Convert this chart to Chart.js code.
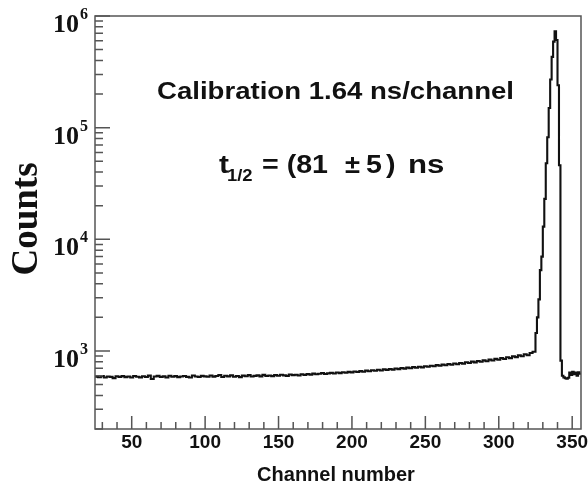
<!DOCTYPE html>
<html lang="en">
<head>
<meta charset="UTF-8">
<title>Calibration spectrum</title>
<script src="https://cdn.jsdelivr.net/npm/chart.js"></script>
<style>
  body { margin: 0; background: #fff; }
  #wrap { width: 588px; height: 487px; }
</style>
</head>
<body>
<div id="wrap"><canvas id="spectrum" width="588" height="487"></canvas></div>
<script>
// flat part of the spectrum, read in bins of 2 channels starting at channel 25
const bgStart = 25;
const bgCounts = [
  588, 582, 595, 579, 590, 586, 571, 593, 584, 597,
  583, 591, 578, 596, 588, 580, 594, 585, 601, 560,
  590, 598, 584, 592, 579, 600, 588, 595, 583, 591,
  597, 586, 579, 602, 590, 584, 598, 592, 587, 603,
  589, 596, 610, 585, 599, 592, 604, 588, 596, 583,
  601, 594, 607, 590, 598, 605, 592, 611, 597, 603,
  595, 608, 600, 613, 604, 598, 616, 607, 612, 603,
  618, 610, 622, 614, 627, 619, 625, 633, 621, 630,
  636, 628, 641, 633, 645, 638, 650, 643, 655, 648,
  660, 652, 667, 658, 672, 664, 678, 669, 684, 676,
  690, 681, 697, 688, 703, 694, 709, 700, 716, 707,
  722, 713, 730, 721, 738, 729, 746, 736, 755, 744,
  763, 752, 772, 760, 781, 770, 792, 780, 803, 790,
  812, 800, 824, 810, 837, 822, 850, 834, 862, 846,
  878, 862, 895, 880, 912, 896, 935, 915, 960, 985
];
// peak and tail, one channel per bin starting at channel 325
const peakStart = 325;
const peakCounts = [
  1450, 2000, 2900, 5300, 7000, 13000, 23000, 48000, 82000, 150000,
  270000, 430000, 590000, 730000, 610000, 240000, 46000, 820, 600, 580,
  570, 565, 575, 640, 610, 650, 620, 640, 600, 645, 625
];
const xTickLabels = [50, 100, 150, 200, 250, 300, 350];
const yTickLabels = [1e3, 1e4, 1e5, 1e6];

const points = [];
bgCounts.forEach((c, i) => points.push({ x: bgStart + 2 * i, y: c }));
peakCounts.forEach((c, i) => points.push({ x: peakStart + i, y: c }));
points.push({ x: peakStart + peakCounts.length, y: peakCounts[peakCounts.length - 1] });

const SANS = '"Liberation Sans", Arial, sans-serif';
const SERIF = '"Liberation Serif", "Times New Roman", serif';

function putText(ctx, str, x, y, font, sx, align) {
  ctx.save();
  ctx.font = font;
  ctx.translate(x, y);
  ctx.scale(sx, 1);
  ctx.textAlign = align || 'left';
  ctx.fillText(str, 0, 0);
  ctx.restore();
}

const frame = {
  id: 'frame',
  afterDatasetsDraw(chart) {
    const { ctx, chartArea: a, scales: { x, y } } = chart;
    ctx.save();
    ctx.strokeStyle = '#555';
    ctx.lineWidth = 1.5;
    ctx.strokeRect(a.left, a.top, a.right - a.left, a.bottom - a.top);

    // ticks point inwards, minor every 10 channels
    ctx.beginPath();
    for (let v = 30; v <= 350; v += 10) {
      const px = x.getPixelForValue(v);
      const len = v % 50 === 0 ? 13 : 7;
      ctx.moveTo(px, a.bottom);
      ctx.lineTo(px, a.bottom - len);
    }
    for (let e = 2; e <= 6; e++) {
      for (let m = 1; m <= 9; m++) {
        const v = m * Math.pow(10, e);
        if (v < y.min || v > y.max) continue;
        const py = y.getPixelForValue(v);
        ctx.moveTo(a.left, py);
        ctx.lineTo(a.left + (m === 1 ? 15 : 8), py);
      }
    }
    ctx.stroke();

    ctx.fillStyle = '#111';
    ctx.textBaseline = 'alphabetic';
    xTickLabels.forEach(v => {
      putText(ctx, String(v), x.getPixelForValue(v), 448, 'bold 19px ' + SANS, 1, 'center');
    });
    putText(ctx, 'Channel number', (a.left + a.right) / 2 - 2, 481, 'bold 20px ' + SANS, 1, 'center');

    yTickLabels.forEach(v => {
      const py = y.getPixelForValue(v);
      const e = Math.round(Math.log10(v));
      putText(ctx, '10', 79, py + 16, 'bold 26px ' + SERIF, 1, 'right');
      putText(ctx, String(e), 80, py + 3, 'bold 16px ' + SERIF, 1, 'left');
    });

    ctx.save();
    ctx.translate(37, 219);
    ctx.rotate(-Math.PI / 2);
    ctx.font = 'bold 37px ' + SERIF;
    ctx.textAlign = 'center';
    ctx.fillText('Counts', 0, 0);
    ctx.restore();

    // annotation
    ctx.font = 'bold 24px ' + SANS;
    const calib = 'Calibration 1.64 ns/channel';
    putText(ctx, calib, 157, 99, 'bold 24px ' + SANS, 357 / ctx.measureText(calib).width);
    const big = 'bold 26px ' + SANS;
    putText(ctx, 't', 219, 173, big, 1.15);
    putText(ctx, '1/2', 227, 181, 'bold 16px ' + SANS, 1.15);
    putText(ctx, '= (81', 262, 173, big, 1.1);
    putText(ctx, '\u00b1', 345, 173, big, 1.05);
    putText(ctx, '5', 366, 173, big, 1.1);
    putText(ctx, ')', 386, 173, big, 1.1);
    putText(ctx, 'ns', 408, 173, big, 1.2);
    ctx.restore();
  }
};

new Chart(document.getElementById('spectrum'), {
  type: 'line',
  data: {
    datasets: [{
      data: points,
      stepped: true,
      borderColor: '#111',
      borderWidth: 2.1,
      pointRadius: 0,
      fill: false
    }]
  },
  options: {
    responsive: false,
    animation: false,
    layout: { padding: { left: 95, top: 16, right: 7, bottom: 58 } },
    plugins: { legend: { display: false }, tooltip: { enabled: false } },
    scales: {
      x: {
        type: 'linear',
        min: 25,
        max: 356,
        ticks: { display: false },
        grid: { display: false, drawTicks: false },
        border: { display: false }
      },
      y: {
        type: 'logarithmic',
        min: 200,
        max: 1e6,
        ticks: { display: false },
        grid: { display: false, drawTicks: false },
        border: { display: false }
      }
    }
  },
  plugins: [frame]
});
</script>
</body>
</html>
